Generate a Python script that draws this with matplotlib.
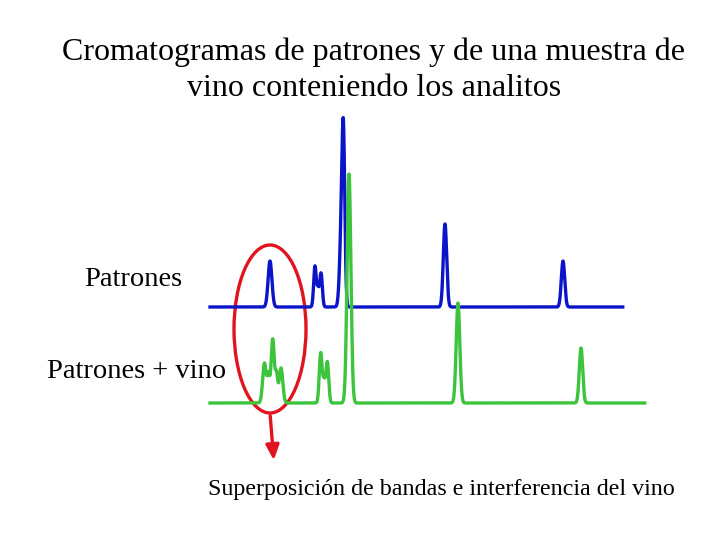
import matplotlib

matplotlib.use("Agg")
import matplotlib.pyplot as plt
import numpy as np
from matplotlib.patches import Ellipse

# peak lists (retention position, height, width)
patrones_pos = [270, 315, 318, 321, 341.5, 343.5, 445, 563]
patrones_height = [46, 41, 16, 34, 75, 145, 83, 46]
patrones_width = [1.9, 1.3, 1.0, 1.3, 1.8, 1.4, 1.7, 1.7]

vino_pos = [264.5, 268.5, 272.7, 276.5, 281, 320.7, 324, 327.3, 349, 458, 581]
vino_height = [40, 26, 64, 27, 35, 50, 20, 41, 229, 100, 55]
vino_width = [1.8, 1.2, 1.6, 1.2, 1.8, 1.4, 1.2, 1.4, 1.9, 1.8, 1.7]

title_lines = ["Cromatogramas de patrones y de una muestra de",
               "vino conteniendo los analitos"]
label_patrones = "Patrones"
label_vino = "Patrones + vino"
note = "Superposición de bandas e interferencia del vino"

BLUE = "#0a14c8"
GREEN = "#3cc43c"
RED = "#e0141e"

plt.rcParams["font.family"] = ["Liberation Serif", "DejaVu Serif"]


def trace(t, pos, height, width):
    y = np.zeros_like(t)
    for p, h, w in zip(pos, height, width):
        y += h * np.exp(-0.5 * ((t - p) / w) ** 2)
    return y


fig = plt.figure(figsize=(7.2, 5.4), dpi=100)
ax = fig.add_axes([0, 0, 1, 1])
ax.set_xlim(0, 720)
ax.set_ylim(0, 540)
ax.set_axis_off()

t_blue = np.arange(210, 623, 0.25)
t_green = np.arange(210, 645, 0.25)
ax.plot(t_blue, 233 + trace(t_blue, patrones_pos, patrones_height, patrones_width),
        color=BLUE, lw=2.4, solid_joinstyle="round")
ax.plot(t_green, 137 + trace(t_green, vino_pos, vino_height, vino_width),
        color=GREEN, lw=2.4, solid_joinstyle="round")

ax.add_patch(Ellipse((270, 211), 72, 168, fill=False, ec=RED, lw=2.4))
ax.annotate("", xy=(274, 77), xytext=(270, 127),
            arrowprops=dict(arrowstyle="-|>,head_length=0.9,head_width=0.4",
                            color=RED, lw=2.4))

ax.text(374, 488, title_lines[0], ha="center", va="center", fontsize=23)
ax.text(374, 451, title_lines[1], ha="center", va="center", fontsize=23)
ax.text(133, 260, label_patrones, ha="center", va="center", fontsize=20.5)
ax.text(137, 168, label_vino, ha="center", va="center", fontsize=20.5)
ax.text(441, 51, note, ha="center", va="center", fontsize=17.3)

fig.savefig("out.png", dpi=100)
